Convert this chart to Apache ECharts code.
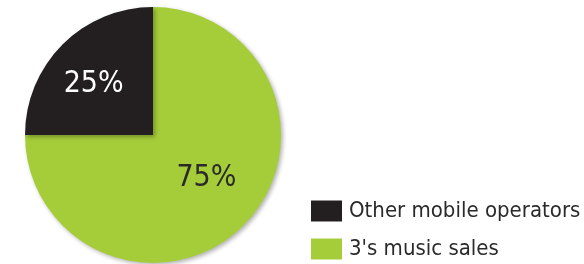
<!DOCTYPE html>
<html lang="en">
<head>
    <meta charset="UTF-8">
    <title>Music sales</title>
    <script src="https://cdn.jsdelivr.net/npm/echarts@6/dist/echarts.min.js"></script>
    <style>
        html, body { margin: 0; padding: 0; background: #fff; }
    </style>
</head>
<body>
<div id="main" style="width: 584px; height: 264px;"></div>
<script type="text/javascript">
    var categories = ["3's music sales", "Other mobile operators"];
    var values = [75, 25];
    var labels = ["75%", "25%"];
    var legendOrder = ["Other mobile operators", "3's music sales"];

    var font = "'Liberation Sans Narrow', 'DejaVu Sans Condensed', sans-serif";
    var colors = ['#a5cd39', '#231f20'];
    var labelColors = ['#2a2a2a', '#ffffff'];
    var labelOffsets = [[6, -4], [-12, -3]];

    var pieData = [];
    for (var i = 0; i < categories.length; i++) {
        pieData.push({
            name: categories[i],
            value: values[i],
            itemStyle: { color: colors[i] },
            label: {
                formatter: labels[i],
                color: labelColors[i],
                offset: labelOffsets[i]
            }
        });
    }

    var myChart = echarts.init(document.getElementById('main'));
    var option = {
        animation: false,
        legend: {
            orient: 'vertical',
            left: 311,
            top: 200,
            height: 64,
            padding: 0,
            icon: 'rect',
            itemWidth: 31,
            itemHeight: 21,
            itemGap: 16,
            data: legendOrder,
            textStyle: {
                fontFamily: font,
                fontSize: 22,
                lineHeight: 21,
                color: '#2a2a2a',
                padding: [0, 0, 0, 2]
            }
        },
        series: [{
            type: 'pie',
            center: [153, 135],
            radius: 128,
            startAngle: 90,
            clockwise: true,
            silent: true,
            itemStyle: {
                borderWidth: 0,
                shadowBlur: 4,
                shadowOffsetX: 2,
                shadowOffsetY: 2,
                shadowColor: 'rgba(0,0,0,0.3)'
            },
            label: {
                show: true,
                position: 'inside',
                fontFamily: font,
                fontSize: 30
            },
            labelLine: { show: false },
            data: pieData
        }]
    };
    myChart.setOption(option);
</script>
</body>
</html>
